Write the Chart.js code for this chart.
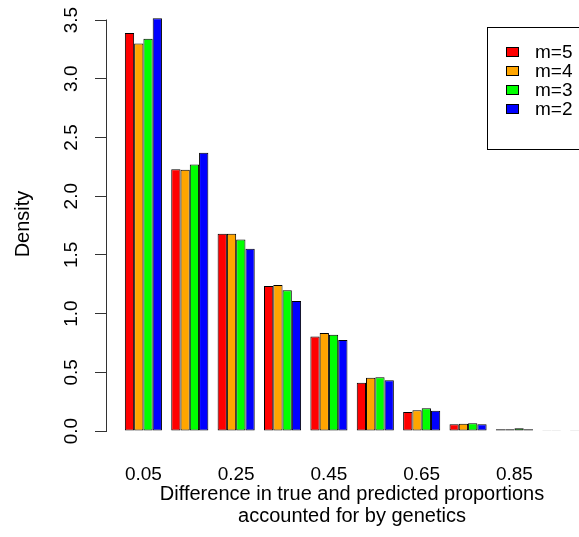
<!DOCTYPE html>
<html>
<head>
<meta charset="utf-8">
<script src="https://cdn.jsdelivr.net/npm/chart.js@4/dist/chart.umd.min.js"></script>
<style>
  html, body { margin: 0; padding: 0; background: #fff; overflow: hidden; }
  #wrap { position: absolute; left: 0; top: 0; width: 620px; height: 537px; }
</style>
</head>
<body>
<div id="wrap"><canvas id="c" width="620" height="537"></canvas></div>
<script>
// Bin midpoints of the difference histogram
const binMids = [0.05, 0.15, 0.25, 0.35, 0.45, 0.55, 0.65, 0.75, 0.85, 0.95];

// Density per bin for each number of markers m
const densM5 = [3.39, 2.23, 1.68, 1.235, 0.806, 0.411, 0.162, 0.057, 0.015, 0.003];
const densM4 = [3.30, 2.225, 1.68, 1.244, 0.835, 0.454, 0.176, 0.063, 0.015, 0.003];
const densM3 = [3.34, 2.27, 1.63, 1.198, 0.820, 0.457, 0.193, 0.067, 0.024, 0.004];
const densM2 = [3.515, 2.37, 1.553, 1.107, 0.775, 0.432, 0.173, 0.058, 0.015, 0.003];

const seriesLabels = ['m=5', 'm=4', 'm=3', 'm=2'];
const seriesColors = ['#ff0000', '#ffa500', '#00ff00', '#0000ff'];

// Axis tick labels
const xTickValues = [0.05, 0.25, 0.45, 0.65, 0.85];
const yTickValues = [0, 0.5, 1, 1.5, 2, 2.5, 3, 3.5];

const FONT = '"Liberation Sans", Arial, Helvetica, sans-serif';

const seriesValues = [densM5, densM4, densM3, densM2];
const datasets = seriesValues.map((vals, i) => ({
  label: seriesLabels[i],
  data: vals.map((v, j) => ({ x: binMids[j], y: v })),
  backgroundColor: seriesColors[i],
  borderColor: '#000',
  borderWidth: 1,
  borderSkipped: false,
  categoryPercentage: 0.8,
  barPercentage: 1.0
}));

// y axis line running only between the first and last tick
const yAxisLine = {
  id: 'yAxisLine',
  afterDraw(chart) {
    const s = chart.scales.y;
    const ctx = chart.ctx;
    const x = Math.round(s.right) - 0.5;
    ctx.save();
    ctx.strokeStyle = '#333';
    ctx.lineWidth = 1;
    ctx.beginPath();
    ctx.moveTo(x, Math.round(s.getPixelForValue(yTickValues[0])) + 0.5);
    ctx.lineTo(x, Math.round(s.getPixelForValue(yTickValues[yTickValues.length - 1])) - 0.5);
    ctx.stroke();
    ctx.restore();
  }
};

// Boxed legend in the upper right of the plot
const boxLegend = {
  id: 'boxLegend',
  afterDraw(chart) {
    const ctx = chart.ctx;
    const bx = 487.5, by = 27.5, bw = 130, bh = 122;
    ctx.save();
    ctx.fillStyle = '#fff';
    ctx.fillRect(bx, by, bw, bh);
    ctx.strokeStyle = '#000';
    ctx.lineWidth = 1;
    ctx.strokeRect(bx, by, bw, bh);
    ctx.font = '19px ' + FONT;
    ctx.textBaseline = 'middle';
    ctx.textAlign = 'left';
    chart.data.datasets.forEach((ds, i) => {
      const cy = 52 + i * 19.1;
      ctx.fillStyle = ds.backgroundColor;
      ctx.fillRect(506, Math.round(cy - 5), 13, 10);
      ctx.strokeStyle = '#000';
      ctx.strokeRect(506.5, Math.round(cy - 5) + 0.5, 12, 9);
      ctx.fillStyle = '#000';
      ctx.fillText(ds.label, 535, cy + 0.5);
    });
    ctx.restore();
  }
};

new Chart(document.getElementById('c'), {
  type: 'bar',
  data: { datasets },
  options: {
    responsive: false,
    animation: false,
    layout: { padding: { top: 1, right: 23, left: 0, bottom: 0 } },
    plugins: { legend: { display: false }, tooltip: { enabled: false } },
    scales: {
      x: {
        type: 'linear',
        offset: false,
        min: -0.0285,
        max: 1.028,
        grid: { display: false, drawTicks: false },
        border: { display: false },
        afterBuildTicks(scale) { scale.ticks = xTickValues.map(v => ({ value: v })); },
        afterFit(scale) {
          scale.height = 90;
          scale.paddingLeft = 0;
          scale.paddingRight = 0;
        },
        ticks: {
          autoSkip: false,
          maxRotation: 0,
          padding: 16,
          color: '#000',
          font: { family: FONT, size: 19 },
          callback: v => Number(v).toFixed(2)
        },
        title: {
          display: true,
          text: ['Difference in true and predicted proportions', 'accounted for by genetics'],
          color: '#000',
          font: { family: FONT, size: 20, lineHeight: 1.1 },
          padding: { top: 0, bottom: 10 }
        }
      },
      y: {
        min: -0.136,
        max: 3.662,
        grid: { display: true, drawOnChartArea: false, drawTicks: true, tickLength: 12, color: '#333' },
        border: { display: false },
        afterBuildTicks(scale) { scale.ticks = yTickValues.map(v => ({ value: v })); },
        afterFit(scale) {
          scale.width = 107;
          scale.paddingTop = 0;
          scale.paddingBottom = 0;
        },
        ticks: {
          autoSkip: false,
          minRotation: 90,
          maxRotation: 90,
          crossAlign: 'center',
          padding: 10,
          color: '#000',
          font: { family: FONT, size: 19 },
          callback: v => Number(v).toFixed(1)
        },
        title: {
          display: true,
          text: 'Density',
          color: '#000',
          font: { family: FONT, size: 20 },
          padding: { top: 11, bottom: 0 }
        }
      }
    }
  },
  plugins: [yAxisLine, boxLegend]
});
</script>
</body>
</html>
